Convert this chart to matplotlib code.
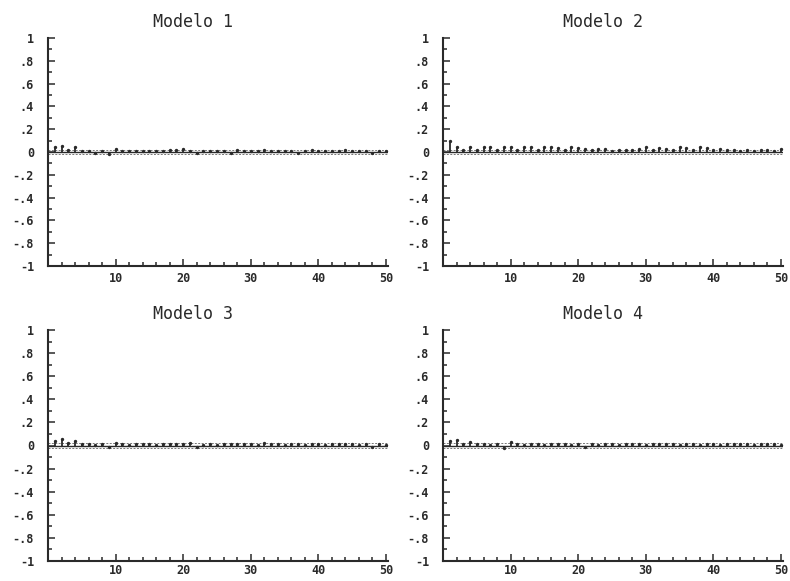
import numpy as np
import matplotlib
matplotlib.use('Agg')
import matplotlib.pyplot as plt
from matplotlib.ticker import MultipleLocator, FixedLocator

# residual autocorrelations, lags 1..50
lags = np.arange(1, 51)
titles = ['Modelo 1', 'Modelo 2', 'Modelo 3', 'Modelo 4']

acf_m1 = [0.045, 0.05, 0.02, 0.045, 0.01, 0.008, -0.005, 0.01, -0.02, 0.025,
          0.012, 0.008, 0.01, 0.005, 0.01, 0.012, 0.01, 0.015, 0.02, 0.025,
          0.012, -0.01, 0.008, 0.01, 0.012, 0.008, -0.012, 0.015, 0.01, 0.012,
          0.01, 0.02, 0.008, 0.01, 0.012, 0.01, -0.01, 0.01, 0.015, 0.012,
          0.008, 0.01, 0.012, 0.015, 0.01, 0.012, 0.008, -0.012, 0.01, 0.008]
acf_m2 = [0.10, 0.04, 0.015, 0.045, 0.02, 0.04, 0.045, 0.02, 0.045, 0.04,
          0.015, 0.045, 0.04, 0.02, 0.04, 0.045, 0.035, 0.02, 0.04, 0.035,
          0.03, 0.015, 0.03, 0.025, 0.01, 0.015, 0.02, 0.015, 0.025, 0.04,
          0.02, 0.035, 0.03, 0.015, 0.04, 0.035, 0.02, 0.04, 0.035, 0.015,
          0.03, 0.02, 0.015, 0.012, 0.015, 0.012, 0.015, 0.02, 0.012, 0.025]
acf_m3 = [0.04, 0.06, 0.02, 0.035, 0.012, 0.01, 0.008, 0.01, -0.015, 0.02,
          0.01, 0.008, 0.012, 0.015, 0.01, 0.008, 0.01, 0.012, 0.015, 0.01,
          0.02, -0.01, 0.008, 0.01, 0.008, 0.01, 0.012, 0.015, 0.012, 0.01,
          0.008, 0.02, 0.012, 0.01, 0.008, 0.012, 0.01, 0.008, 0.012, 0.01,
          0.008, 0.01, 0.012, 0.015, 0.01, 0.008, 0.012, -0.01, 0.01, 0.008]
acf_m4 = [0.035, 0.05, 0.015, 0.03, 0.012, 0.01, 0.008, 0.01, -0.02, 0.03,
          0.01, 0.008, 0.012, 0.01, 0.008, 0.01, 0.012, 0.01, 0.008, 0.015,
          -0.012, 0.01, 0.008, 0.01, 0.012, 0.008, 0.01, 0.012, 0.01, 0.008,
          0.01, 0.015, 0.01, 0.012, 0.008, 0.01, 0.012, 0.008, 0.01, 0.012,
          0.008, 0.01, 0.012, 0.015, 0.012, 0.008, 0.015, 0.01, 0.012, 0.008]
band = 0.02

y_ticks = [-1, -0.8, -0.6, -0.4, -0.2, 0, 0.2, 0.4, 0.6, 0.8, 1]
y_labels = ['-1', '-.8', '-.6', '-.4', '-.2', '0', '.2', '.4', '.6', '.8', '1']
x_ticks = [10, 20, 30, 40, 50]

INK = '#2a2a2a'
W, H = 790, 581
fig = plt.figure(figsize=(W / 100, H / 100), dpi=100)

# axes boxes in pixels: left, top (y=1), right, bottom (y=-1)
boxes = [(48, 38, 388, 266), (443, 38, 783, 266),
         (48, 330, 388, 561), (443, 330, 783, 561)]
title_px = [193, 603, 193, 603]

for k, acf in enumerate([acf_m1, acf_m2, acf_m3, acf_m4]):
    l, t, r, b = boxes[k]
    ax = fig.add_axes([l / W, 1 - b / H, (r - l) / W, (b - t) / H])

    ax.axhline(0, color=INK, lw=1.0)
    ax.axhline(band, color='#777777', lw=0.7, ls=(0, (2, 1.5)))
    ax.axhline(-band, color='#777777', lw=0.7, ls=(0, (2, 1.5)))
    ax.vlines(lags, 0, acf, color=INK, lw=1.3)
    ax.plot(lags, acf, 'o', color=INK, ms=1.4)

    ax.set_xlim(0, 50.3)
    ax.set_ylim(-1, 1)

    for s in ['top', 'right']:
        ax.spines[s].set_visible(False)
    for s in ['left', 'bottom']:
        ax.spines[s].set_color(INK)
        ax.spines[s].set_linewidth(1.5)

    ax.yaxis.set_major_locator(FixedLocator(y_ticks))
    ax.set_yticklabels(y_labels)
    ax.yaxis.set_minor_locator(MultipleLocator(0.1))
    ax.xaxis.set_major_locator(FixedLocator(x_ticks))
    ax.xaxis.set_minor_locator(MultipleLocator(2))

    ax.tick_params(axis='both', which='both', direction='in', color=INK, width=1.1)
    ax.tick_params(axis='both', which='major', length=5)
    ax.tick_params(axis='both', which='minor', length=3)
    ax.tick_params(axis='y', pad=10)
    ax.tick_params(axis='x', pad=2 if k >= 2 else 4)
    for lab in ax.get_xticklabels() + ax.get_yticklabels():
        lab.set_fontfamily('DejaVu Sans Mono')
        lab.set_fontweight('bold')
        lab.set_fontsize(8.5)
        lab.set_color(INK)
    for lab in ax.get_yticklabels():
        lab.set_horizontalalignment('right')

    ax.text((title_px[k] - l) / (r - l), 1 + 16 / (b - t), titles[k],
            transform=ax.transAxes, ha='center', va='center',
            fontfamily='DejaVu Sans Mono', fontsize=12, color=INK)

fig.savefig('out.png', dpi=100)
